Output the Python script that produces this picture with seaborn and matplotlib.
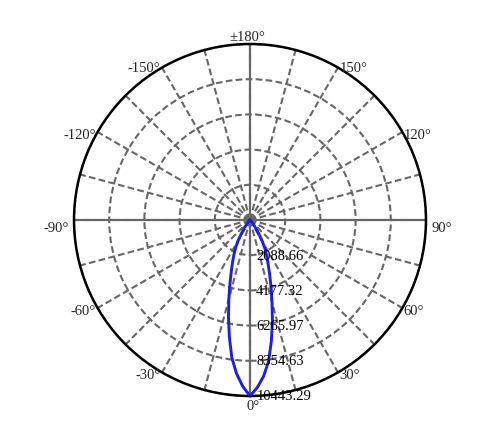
import numpy as np
import matplotlib
matplotlib.use("Agg")
import matplotlib.pyplot as plt
import seaborn as sns

# luminous intensity distribution (cd), angle in degrees from nadir
angles_deg = [-90, -80, -70, -60, -55, -50, -45, -42.5, -40, -37.5, -35, -32.5,
              -30, -27.5, -25, -22.5, -20, -17.5, -15, -12.5, -10, -7.5, -5, -2.5,
              0,
              2.5, 5, 7.5, 10, 12.5, 15, 17.5, 20, 22.5, 25, 27.5, 30,
              32.5, 35, 37.5, 40, 42.5, 45, 50, 55, 60, 70, 80, 90]
intensity = [0, 0, 0, 0, 0, 5, 30, 80, 170, 340, 590, 940,
             1400, 1850, 2250, 2700, 3250, 3950, 4850, 5900, 7050, 8250, 9150, 9880,
             10443.29,
             9950, 9300, 8450, 7300, 6150, 5050, 4150, 3400, 2800, 2350, 1920, 1450,
             980, 620, 360, 190, 90, 35, 5, 0, 0, 0, 0, 0]

ring_values = [2088.66, 4177.32, 6265.97, 8354.63, 10443.29]
ring_labels = ["2088.66", "4177.32", "6265.97", "8354.63", "10443.29"]
angle_ticks = [0, 30, 60, 90, 120, 150, 180, 210, 240, 270, 300, 330]
angle_labels = ["0°", "30°", "60°", "90°", "120°", "150°", "±180°",
                "-150°", "-120°", "-90°", "-60°", "-30°"]

sns.set_style("white")
plt.rcParams['font.family'] = ['Liberation Serif', 'DejaVu Serif']

fig = plt.figure(figsize=(4.9, 4.39), dpi=100)
ax = fig.add_axes([0.151, 0.0957, 0.7184, 0.8018], projection='polar')
ax.set_theta_zero_location('S')
ax.set_theta_direction(1)
rmax = ring_values[-1]
ax.set_ylim(0, rmax)

grid_col = '#676767'
ax.set_xticks(np.deg2rad(np.arange(0, 360, 15)))
ax.set_xticklabels([])
ax.set_yticks(ring_values)
ax.set_yticklabels([])
ax.grid(True, color=grid_col, linestyle=(0, (3.2, 1.6)), linewidth=1.5)
ax.tick_params(length=0)

# solid main axes
for a in [0, 90, 180, 270]:
    ax.plot([np.deg2rad(a)] * 2, [0, rmax], color=grid_col, lw=1.6, zorder=2)

ax.spines['polar'].set_color('black')
ax.spines['polar'].set_linewidth(1.8)

sns.lineplot(x=np.deg2rad(angles_deg), y=intensity, ax=ax, sort=False,
             color='#1f1fe0', lw=2.1, zorder=5)
ax.set_xlabel('')
ax.set_ylabel('')

# radial labels along the 0° line
for r, lab in zip(ring_values, ring_labels):
    ax.annotate(lab, xy=(0, r), xytext=(4.5, 0), textcoords='offset points',
                ha='left', va='center', fontsize=10.5, color='black',
                annotation_clip=False, zorder=6)

# angle labels around the rim
for a, lab in zip(angle_ticks, angle_labels):
    if a == 0:
        ha, va, off = 'center', 'top', (2, -2)
    elif a == 180:
        ha, va, off = 'center', 'bottom', (-2, 1)
    elif a < 180:
        ha, va, off = 'left', 'top', (1, 3)
    else:
        ha, va, off = 'right', 'top', (-1, 3)
    if a in (150, 210):
        va = 'center'
        off = (off[0], 0)
    if a in (90, 270):
        off = (off[0] * 4, -1)
    ax.annotate(lab, xy=(np.deg2rad(a), rmax), xytext=off, textcoords='offset points',
                ha=ha, va=va, fontsize=10.5, annotation_clip=False)

fig.savefig('out.png', dpi=100)
